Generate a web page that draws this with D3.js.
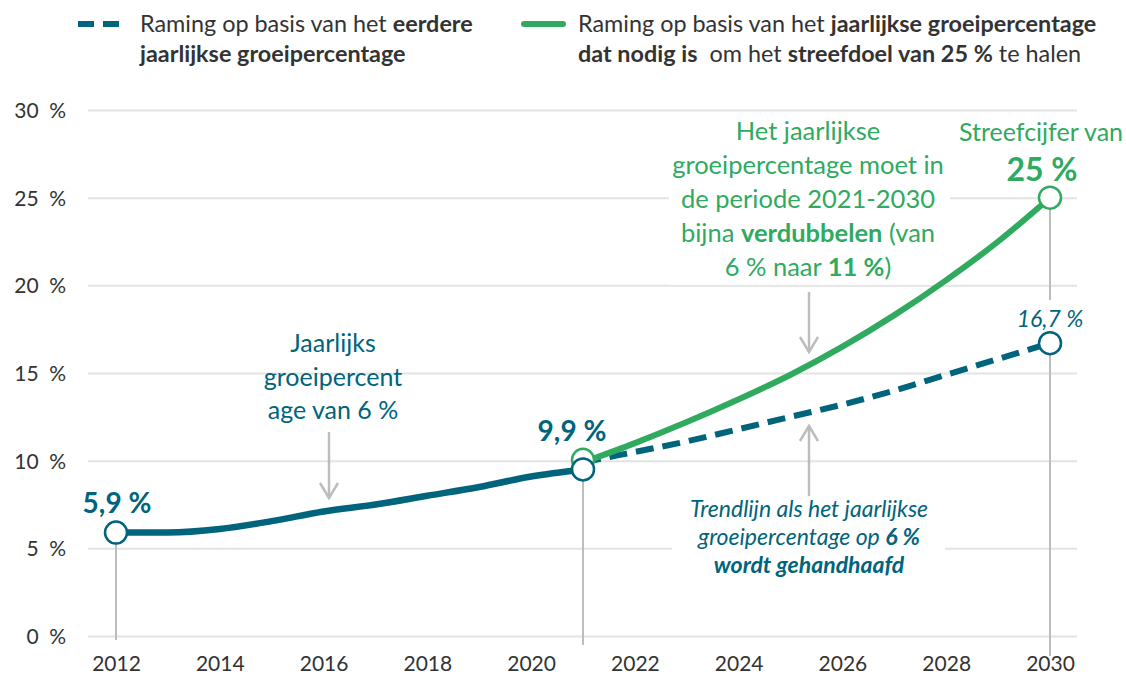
<!DOCTYPE html>
<html>
<head>
<meta charset="utf-8">
<script src="https://cdn.jsdelivr.net/npm/d3@7"></script>
<style>
  body { margin: 0; background: #fff; }
  svg { font-family: Lato, "Open Sans", sans-serif; }
</style>
</head>
<body>
<div id="chart"></div>
<script>
// data
var histYears = [2012, 2013, 2014, 2015, 2016, 2017, 2018, 2019, 2020, 2021];
var histValues = [5.9, 5.9, 6.1, 6.55, 7.1, 7.5, 8.0, 8.5, 9.1, 9.5];

var projYears = [2021, 2022, 2023, 2024, 2025, 2026, 2027, 2028, 2029, 2030];
var trendValues = [9.9, 10.5, 11.1, 11.8, 12.5, 13.2, 14.0, 14.9, 15.8, 16.7];
var targetValues = [9.9, 11.0, 12.2, 13.5, 14.9, 16.5, 18.3, 20.3, 22.5, 25.0];

var yTicks = [0, 5, 10, 15, 20, 25, 30];
var xTicks = [2012, 2014, 2016, 2018, 2020, 2022, 2024, 2026, 2028, 2030];

var teal = "#00647c";
var green = "#2faa5f";
var grey = "#bdbdbd";
var textGrey = "#333333";

var svgWidth = 1126;
var svgHeight = 677;

var svg = d3.select("#chart")
  .append("svg")
  .attr("width", svgWidth)
  .attr("height", svgHeight);

var x = d3.scaleLinear().domain([2012, 2030]).range([116, 1050]);
var y = d3.scaleLinear().domain([0, 30]).range([636, 110]);

// gridlines + y labels
var yAxis = d3.axisLeft(y)
  .tickValues(yTicks)
  .tickSize(-(1077 - 88))
  .tickFormat(d => d + "\u2002%");

var yg = svg.append("g")
  .attr("transform", "translate(88,0)")
  .call(yAxis);
yg.select(".domain").remove();
yg.selectAll(".tick line").attr("stroke", "#e3e3e3").attr("stroke-width", 2);
yg.selectAll(".tick text")
  .attr("x", -22)
  .attr("dy", "0.35em")
  .attr("fill", textGrey)
  .style("font-size", "21px")
  .style("font-family", "Lato, sans-serif");

// x labels
var xAxis = d3.axisBottom(x).tickValues(xTicks).tickSize(0).tickFormat(d3.format("d"));
var xg = svg.append("g")
  .attr("transform", "translate(0,653)")
  .call(xAxis);
xg.select(".domain").remove();
xg.selectAll(".tick text")
  .attr("fill", textGrey)
  .style("font-size", "21px")
  .style("font-family", "Lato, sans-serif");

// vertical drop lines
function vline(x0, y0, y1) {
  svg.append("line")
    .attr("x1", x0).attr("x2", x0)
    .attr("y1", y0).attr("y2", y1)
    .attr("stroke", grey).attr("stroke-width", 2);
}
vline(x(2012), y(5.9), 640);
vline(x(2021), y(9.5), 645);
vline(x(2030), y(25), 300);
vline(x(2030), y(16.7), 656);

// white boxes behind annotation texts
svg.append("rect").attr("x", 669).attr("y", 115).attr("width", 281).attr("height", 170).attr("fill", "#fff");
svg.append("rect").attr("x", 672).attr("y", 494).attr("width", 273).attr("height", 88).attr("fill", "#fff");

// lines
var line = d3.line()
  .x(d => x(d[0]))
  .y(d => y(d[1]))
  .curve(d3.curveMonotoneX);

svg.append("path")
  .datum(d3.zip(projYears, trendValues))
  .attr("d", line)
  .attr("fill", "none")
  .attr("stroke", teal)
  .attr("stroke-width", 6)
  .attr("stroke-dasharray", "18,9");

svg.append("path")
  .datum(d3.zip(projYears, targetValues))
  .attr("d", line)
  .attr("fill", "none")
  .attr("stroke", green)
  .attr("stroke-width", 6)
  .attr("stroke-linecap", "round");

svg.append("path")
  .datum(d3.zip(histYears, histValues))
  .attr("d", line)
  .attr("fill", "none")
  .attr("stroke", teal)
  .attr("stroke-width", 6.5);

// circles
function dot(yr, v, col) {
  svg.append("circle")
    .attr("cx", x(yr)).attr("cy", y(v)).attr("r", 11)
    .attr("fill", "#fff").attr("stroke", col).attr("stroke-width", 2.5);
}
dot(2021, 10.05, green);
dot(2012, 5.9, teal);
dot(2021, 9.5, teal);
dot(2030, 25, green);
dot(2030, 16.7, teal);

// arrows
function arrow(x0, y0, y1) {
  var dir = y1 > y0 ? 1 : -1;
  svg.append("line")
    .attr("x1", x0).attr("x2", x0).attr("y1", y0).attr("y2", y1)
    .attr("stroke", grey).attr("stroke-width", 2.5);
  svg.append("path")
    .attr("d", `M${x0 - 9},${y1 - dir * 15}L${x0},${y1}L${x0 + 9},${y1 - dir * 15}`)
    .attr("fill", "none").attr("stroke", grey).attr("stroke-width", 2.5);
}
arrow(329, 432, 498);
arrow(809, 292, 352);
arrow(809, 496, 426);

// text helper with mixed bold runs
function label(xc, yb, parts, opts) {
  var t = svg.append("text")
    .attr("x", xc).attr("y", yb)
    .attr("text-anchor", opts.anchor || "middle")
    .attr("fill", opts.color)
    .style("font-size", opts.size + "px")
    .style("font-style", opts.italic ? "italic" : "normal")
    .style("white-space", "pre");
  parts.forEach(function(p) {
    t.append("tspan")
      .attr("font-weight", p[1] ? "bold" : "normal")
      .text(p[0]);
  });
  return t;
}

// legend
svg.append("line").attr("x1", 78).attr("x2", 119).attr("y1", 24).attr("y2", 24)
  .attr("stroke", teal).attr("stroke-width", 6).attr("stroke-dasharray", "16,9");
svg.append("line").attr("x1", 524).attr("x2", 563).attr("y1", 24).attr("y2", 24)
  .attr("stroke", green).attr("stroke-width", 6).attr("stroke-linecap", "round");

label(140, 32, [["Raming op basis van het ", false], ["eerdere", true]], {anchor: "start", color: textGrey, size: 23.4});
label(140, 62, [["jaarlijkse groeipercentage", true]], {anchor: "start", color: textGrey, size: 23.4});
label(578, 32, [["Raming op basis van het ", false], ["jaarlijkse groeipercentage", true]], {anchor: "start", color: textGrey, size: 23.4});
label(578, 62, [["dat nodig is", true], ["  om het ", false], ["streefdoel van 25 %", true], [" te halen", false]], {anchor: "start", color: textGrey, size: 23.4});

// value labels
label(117, 513, [["5,9 %", true]], {color: teal, size: 28});
label(572, 441, [["9,9 %", true]], {color: teal, size: 28});
label(1050, 327, [["16,7 %", false]], {color: teal, size: 23, italic: true});
label(1041, 141, [["Streefcijfer van", false]], {color: green, size: 25});
label(1042, 181, [["25 %", true]], {color: green, size: 32});

// annotation: historical growth
label(333, 352, [["Jaarlijks", false]], {color: teal, size: 25});
label(333, 386, [["groeipercent", false]], {color: teal, size: 25});
label(333, 419, [["age van 6 %", false]], {color: teal, size: 25});

// annotation: required growth
label(808, 140, [["Het jaarlijkse", false]], {color: green, size: 25.5});
label(808, 174, [["groeipercentage moet in", false]], {color: green, size: 25.5});
label(808, 208, [["de periode 2021-2030", false]], {color: green, size: 25.5});
label(808, 242, [["bijna ", false], ["verdubbelen", true], [" (van", false]], {color: green, size: 25.5});
label(808, 276, [["6 % naar ", false], ["11 %", true], [")", false]], {color: green, size: 25.5});

// annotation: trend line
label(809, 517, [["Trendlijn als het jaarlijkse", false]], {color: teal, size: 23, italic: true});
label(809, 545, [["groeipercentage op ", false], ["6 %", true]], {color: teal, size: 23, italic: true});
label(809, 573, [["wordt gehandhaafd", true]], {color: teal, size: 23, italic: true});
</script>
</body>
</html>
